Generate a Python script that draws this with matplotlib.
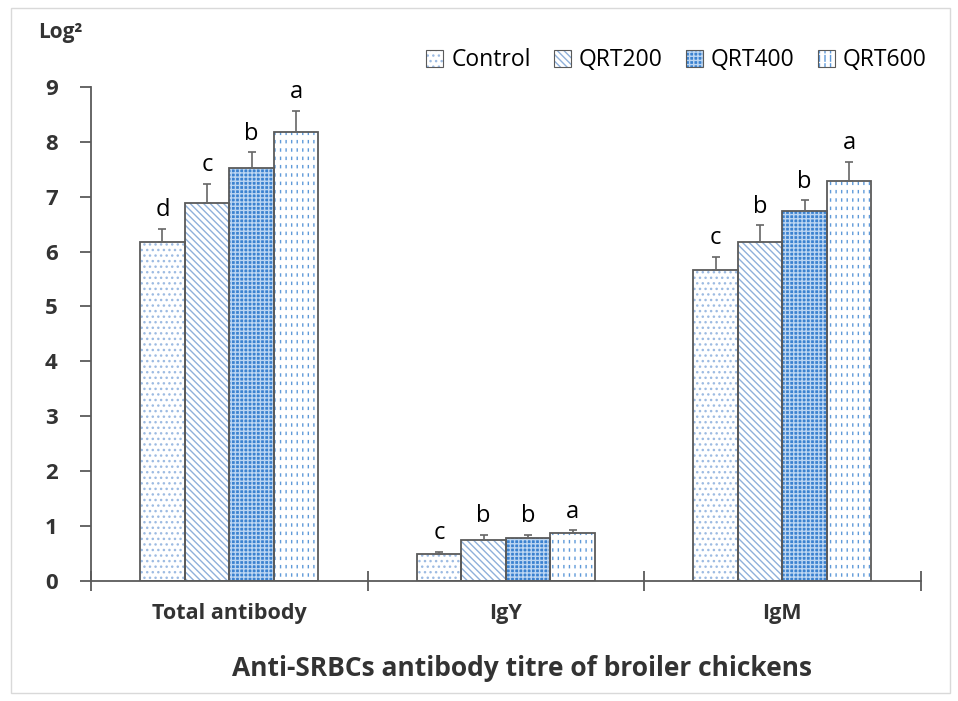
import numpy as np
import matplotlib.pyplot as plt
from matplotlib.patches import Rectangle

plt.rcParams['font.family'] = ['Open Sans', 'DejaVu Sans']

groups = ['Total antibody', 'IgY', 'IgM']
series = ['Control', 'QRT200', 'QRT400', 'QRT600']
values = [
    [6.17, 0.50, 5.67],   # Control
    [6.88, 0.74, 6.17],   # QRT200
    [7.52, 0.79, 6.73],   # QRT400
    [8.18, 0.88, 7.29],   # QRT600
]
errors = [
    [0.24, 0.03, 0.23],
    [0.35, 0.10, 0.31],
    [0.29, 0.05, 0.20],
    [0.38, 0.04, 0.34],
]
letters = [
    ['d', 'c', 'c'],
    ['c', 'b', 'b'],
    ['b', 'b', 'b'],
    ['a', 'a', 'a'],
]

faces = ['white', 'white', '#3b82d0', 'white']
hatch_cols = ['#9dbbe2', '#8fb0da', '#bcd6f2', '#5f9ad9']
hatches = ['...', '\\\\\\\\\\', '++++', '|||']
edge = '#5a5a5a'


def dash_breaker(p):
    # white horizontal hatch that cuts the vertical lines into dashes
    p.set_hatch('--')
    if hasattr(p, 'set_hatch_linewidth'):
        p.set_hatch_linewidth(3.5)


fig = plt.figure(figsize=(9.58, 7.01), dpi=100)
ax = fig.add_axes([0.095, 0.1712, 0.866, 0.705])

x = np.arange(len(groups))
w = 0.161
handles = []
for i, s in enumerate(series):
    pos = x + (i - 1.5) * w
    ax.bar(pos, values[i], w, color=faces[i], edgecolor=hatch_cols[i],
           hatch=hatches[i], linewidth=0, zorder=2)
    if s == 'QRT600':
        cut = ax.bar(pos, values[i], w, fill=False, edgecolor='white',
                     linewidth=0, zorder=2.5)
        for p in cut:
            dash_breaker(p)
    ax.bar(pos, values[i], w, fill=False, edgecolor=edge, linewidth=1.3,
           zorder=3)
    ax.errorbar(pos, values[i], yerr=[np.zeros(3), errors[i]], fmt='none',
                ecolor='#666666', elinewidth=1.2, capsize=3, capthick=1.2,
                zorder=4)
    for j in range(len(groups)):
        ax.text(pos[j], values[i][j] + errors[i][j] + 0.12, letters[i][j],
                ha='center', va='bottom', fontsize=17, color='black')
    h1 = Rectangle((0, 0), 1, 1, facecolor=faces[i], edgecolor=hatch_cols[i],
                   hatch=hatches[i], linewidth=0)
    h2 = Rectangle((0, 0), 1, 1, fill=False, edgecolor=edge, linewidth=0.8)
    if s == 'QRT600':
        h3 = Rectangle((0, 0), 1, 1, fill=False, edgecolor='white',
                       linewidth=0)
        dash_breaker(h3)
        handles.append((h1, h3, h2))
    else:
        handles.append((h1, h2))

ax.set_xlim(-0.5, 2.5)
ax.set_ylim(0, 9)
ax.set_yticks(range(10))
ax.set_yticklabels([str(v) for v in range(10)], fontsize=16, fontweight='bold',
                   color='#333333')
ax.set_xticks(x)
ax.set_xticklabels(groups, fontsize=15.5, fontweight='bold', color='#333333')
ax.tick_params(axis='x', length=0, pad=16)
ax.set_xticks([-0.5, 0.5, 1.5, 2.5], minor=True)
ax.tick_params(axis='x', which='minor', direction='inout', length=14,
               color=edge, width=1.3)
ax.tick_params(axis='y', length=8, color=edge, width=1.3, pad=16)

for sp in ['top', 'right']:
    ax.spines[sp].set_visible(False)
for sp in ['left', 'bottom']:
    ax.spines[sp].set_color(edge)
    ax.spines[sp].set_linewidth(1.3)

fig.legend(handles, series, loc='center right',
           bbox_to_anchor=(0.977, 0.914), ncol=4, frameon=False,
           fontsize=16.5, handlelength=0.75, handleheight=0.75,
           columnspacing=1.0, handletextpad=0.35, borderaxespad=0)

fig.text(0.040, 0.953, 'Log²', fontsize=15, fontweight='bold',
         color='#333333', va='center')
fig.text(0.545, 0.047, 'Anti-SRBCs antibody titre of broiler chickens',
         ha='center', va='center', fontsize=19, fontweight='bold',
         color='#333333')

fig.patches.append(Rectangle((0.011, 0.012), 0.981, 0.976,
                             transform=fig.transFigure, fill=False,
                             edgecolor='#d9d9d9', linewidth=1))

fig.savefig('out.png', dpi=100)
